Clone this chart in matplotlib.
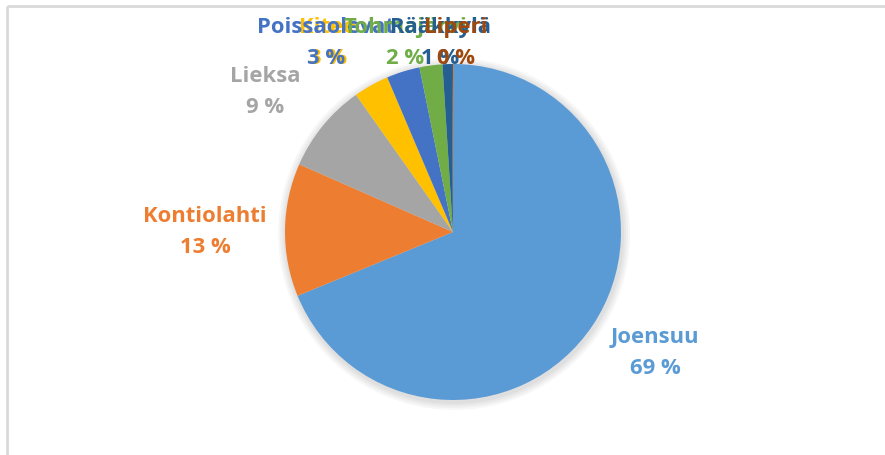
import matplotlib
matplotlib.use("Agg")
import matplotlib.pyplot as plt
from matplotlib.patches import Circle

categories = ["Joensuu", "Kontiolahti", "Lieksa", "Kitee", "Poissaolevat",
              "Tohmajärvi", "Rääkkylä", "Liperi"]
values = [68.8, 12.8, 8.6, 3.4, 3.2, 2.2, 0.9, 0.1]
colors = ["#5B9BD5", "#ED7D31", "#A5A5A5", "#FFC000", "#4472C4",
          "#70AD47", "#255E91", "#9E480E"]
# label centers (pixels, from top-left)
label_pos = [(655, 353), (205, 232), (265, 92), (328, 43), (326, 43),
             (405, 43), (440, 43), (456, 43)]

W, H = 885, 455
fig = plt.figure(figsize=(W / 100, H / 100), dpi=100)
ax = fig.add_axes([0, 0, 1, 1])

cx, cy, r = 453, H - 232, 168

# soft shadow
for i, a in enumerate([0.03, 0.03, 0.03, 0.03]):
    ax.add_patch(Circle((cx + 1, cy - 2), r + 2 + 2 * i, color="#000000",
                        alpha=a, lw=0, zorder=0))

wedges, _ = ax.pie(values, colors=colors, startangle=90, counterclock=False,
                   center=(cx, cy), radius=r, frame=True,
                   wedgeprops=dict(linewidth=0))
ax.set_xlim(0, W)
ax.set_ylim(0, H)
ax.set_aspect("equal")
ax.axis("off")

total = sum(values)
for i in range(len(categories)):
    x, y = label_pos[i]
    pct = round(values[i] / total * 100)
    ax.text(x, H - y, f"{categories[i]}\n{pct} %", ha="center", va="center",
            color=colors[i], fontsize=15.8, fontweight="bold",
            family=["Open Sans", "DejaVu Sans"], linespacing=1.62, zorder=5)

# chart frame
ax.plot([7, 7], [0, H - 6], color="#D9D9D9", lw=2, solid_capstyle="butt")
ax.plot([7, W], [H - 6, H - 6], color="#D9D9D9", lw=2, solid_capstyle="butt")

fig.savefig("out.png", dpi=100)
